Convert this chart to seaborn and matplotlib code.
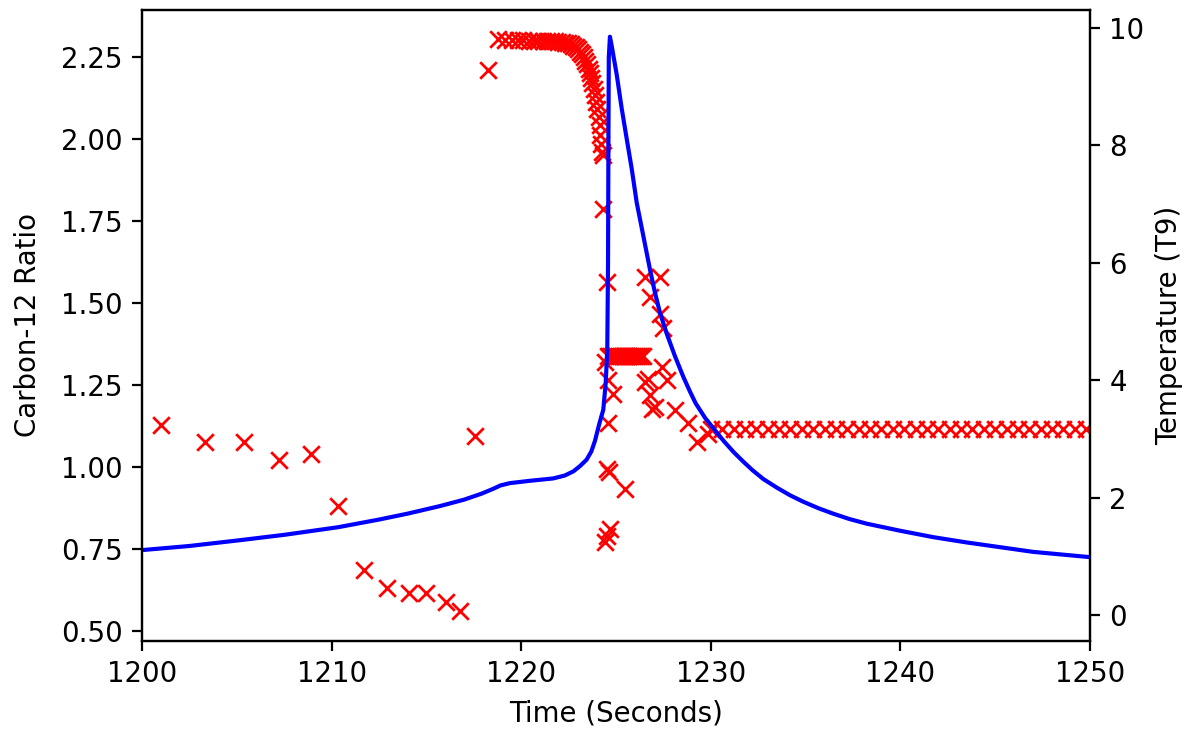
import numpy as np
import pandas as pd
import matplotlib
matplotlib.use("Agg")
import matplotlib.pyplot as plt
from matplotlib.ticker import FormatStrFormatter
import seaborn as sns

# ---- Carbon-12 ratio samples (red x markers, left axis) ----
c12_time = [
    1201.0, 1203.3, 1205.4, 1207.2, 1208.9, 1210.35, 1211.7, 1212.9, 1214.1, 1214.98,
    1216.03, 1216.77, 1217.56, 1218.27,
    1218.78, 1219.15, 1219.5, 1219.82, 1220.12, 1220.4, 1220.66, 1220.9, 1221.13, 1221.35,
    1221.56, 1221.76, 1221.95, 1222.13, 1222.3, 1222.46, 1222.61, 1222.75, 1222.88, 1223.0,
    1223.11, 1223.21, 1223.3, 1223.39, 1223.47, 1223.55, 1223.62, 1223.69, 1223.76, 1223.83,
    1223.9, 1223.96, 1224.02, 1224.08, 1224.13, 1224.18, 1224.22, 1224.26, 1224.29, 1224.33,
    1224.51, 1224.42, 1224.6, 1224.86, 1224.6, 1224.51, 1224.62, 1225.48, 1224.68, 1224.42,
    1224.55,
    1224.6, 1224.7, 1224.8, 1224.9, 1225.0, 1225.1, 1225.2, 1225.3, 1225.4, 1225.5,
    1225.6, 1225.7, 1225.8, 1225.9, 1226.0, 1226.1, 1226.2, 1226.3, 1226.4,
    1226.53, 1227.32, 1226.79, 1227.32, 1227.5, 1227.4, 1226.71, 1227.67, 1226.79, 1227.06,
    1228.11, 1228.81, 1229.25, 1229.87, 1226.88, 1226.53,
    1230.0, 1230.6, 1231.2, 1231.8, 1232.4, 1233.0, 1233.6, 1234.2, 1234.8, 1235.4,
    1236.0, 1236.6, 1237.2, 1237.8, 1238.4, 1239.0, 1239.6, 1240.2, 1240.8, 1241.4,
    1242.0, 1242.6, 1243.2, 1243.8, 1244.4, 1245.0, 1245.6, 1246.2, 1246.8, 1247.4,
    1248.0, 1248.6, 1249.2, 1249.8,
]
c12_ratio = [
    1.126, 1.075, 1.075, 1.021, 1.039, 0.880, 0.684, 0.630, 0.615, 0.615,
    0.588, 0.561, 1.092, 2.210,
    2.305, 2.302, 2.300, 2.300, 2.300, 2.299, 2.299, 2.298, 2.298, 2.297,
    2.297, 2.296, 2.295, 2.294, 2.292, 2.290, 2.287, 2.283, 2.278, 2.272,
    2.265, 2.257, 2.248, 2.238, 2.226, 2.213, 2.200, 2.186, 2.170, 2.152,
    2.133, 2.112, 2.090, 2.066, 2.040, 2.012, 1.985, 1.960, 1.950, 1.786,
    1.562, 1.320, 1.263, 1.220, 1.132, 0.994, 0.985, 0.933, 0.810, 0.770,
    0.790,
    1.338, 1.338, 1.338, 1.338, 1.338, 1.338, 1.338, 1.338, 1.338, 1.338,
    1.338, 1.338, 1.338, 1.338, 1.338, 1.338, 1.338, 1.338, 1.338,
    1.577, 1.577, 1.516, 1.465, 1.424, 1.304, 1.268, 1.263, 1.217, 1.182,
    1.172, 1.132, 1.075, 1.100, 1.177, 1.258,
    1.115, 1.115, 1.115, 1.115, 1.115, 1.115, 1.115, 1.115, 1.115, 1.115,
    1.115, 1.115, 1.115, 1.115, 1.115, 1.115, 1.115, 1.115, 1.115, 1.115,
    1.115, 1.115, 1.115, 1.115, 1.115, 1.115, 1.115, 1.115, 1.115, 1.115,
    1.115, 1.115, 1.115, 1.115,
]

# ---- Temperature curve (blue line, right axis) ----
temp_time = [
    1200.0, 1202.5, 1205.2, 1207.5, 1210.35, 1212.5, 1214.0, 1215.72, 1217.0, 1217.9,
    1218.5, 1218.9, 1219.4, 1220.46, 1221.69, 1222.3, 1222.75, 1223.1, 1223.45, 1223.7,
    1223.89, 1224.12, 1224.33, 1224.46, 1224.54, 1224.58, 1224.6, 1224.62, 1224.68, 1224.77,
    1225.04, 1225.30, 1225.56, 1225.83, 1226.09, 1226.44, 1226.79, 1227.05, 1227.32, 1227.67,
    1228.1, 1228.55, 1228.9, 1229.2, 1229.7, 1230.22, 1230.7, 1231.2, 1231.7, 1232.2,
    1232.77, 1233.5, 1234.2, 1234.9, 1235.7, 1236.46, 1237.3, 1238.22, 1239.1, 1239.98,
    1241.74, 1243.50, 1245.25, 1247.0, 1250.0,
]
temp_t9 = [
    1.11, 1.18, 1.28, 1.37, 1.50, 1.63, 1.73, 1.86, 1.97, 2.07,
    2.15, 2.21, 2.25, 2.29, 2.33, 2.38, 2.45, 2.54, 2.65, 2.79,
    2.97, 3.26, 3.50, 3.97, 4.53, 6.0, 8.0, 9.5, 9.85, 9.70,
    9.20, 8.63, 8.12, 7.60, 7.03, 6.46, 5.89, 5.50, 5.15, 4.80,
    4.42, 4.06, 3.81, 3.61, 3.36, 3.15, 2.96, 2.78, 2.62, 2.47,
    2.32, 2.17, 2.04, 1.93, 1.82, 1.73, 1.64, 1.56, 1.50, 1.44,
    1.33, 1.24, 1.16, 1.08, 0.99,
]

x_ticks = [1200, 1210, 1220, 1230, 1240, 1250]
left_ticks = [0.50, 0.75, 1.00, 1.25, 1.50, 1.75, 2.00, 2.25]
right_ticks = [0, 2, 4, 6, 8, 10]

DPI = 199
W, H = 1191, 735
fig = plt.figure(figsize=(W / DPI, H / DPI), dpi=DPI)
ax1 = fig.add_axes([142 / W, 1 - 641 / H, (1090 - 142) / W, (641 - 10) / H])

c12_df = pd.DataFrame({"time": c12_time, "ratio": c12_ratio})
temp_df = pd.DataFrame({"time": temp_time, "T9": temp_t9})

sns.scatterplot(data=c12_df, x="time", y="ratio", ax=ax1, marker="x",
                color="red", s=36, linewidth=1.0, legend=False)
ax1.set_xlim(1200, 1250)
ax1.set_ylim(0.4686, 2.392)
ax1.set_xticks(x_ticks)
ax1.set_yticks(left_ticks)
ax1.yaxis.set_major_formatter(FormatStrFormatter("%.2f"))
ax1.set_xlabel("Time (Seconds)")
ax1.set_ylabel("Carbon-12 Ratio", labelpad=7)

ax2 = ax1.twinx()
sns.lineplot(data=temp_df, x="time", y="T9", ax=ax2, color="blue",
             estimator=None, sort=False, linewidth=1.5, legend=False)
ax2.set_ylim(-0.4375, 10.305)
ax2.set_yticks(right_ticks)
ax2.set_ylabel("Temperature (T9)")
ax2.set_xlim(1200, 1250)

fig.savefig("out.png", dpi=DPI)
